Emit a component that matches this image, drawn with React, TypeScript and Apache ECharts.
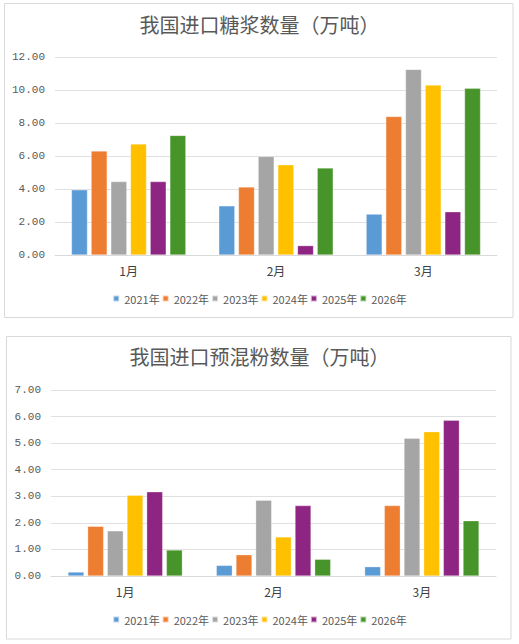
import React, { useEffect, useRef } from "react";
import * as echarts from "echarts";

const months = ["1月", "2月", "3月"];
const years = ["2021年", "2022年", "2023年", "2024年", "2025年", "2026年"];
const colors = ["#5B9BD5", "#ED7D31", "#A5A5A5", "#FFC000", "#8E2582", "#47952A"];

// 我国进口糖浆数量（万吨） — one array per year, values for 1月/2月/3月
const syrup2021 = [3.95, 2.98, 2.48];
const syrup2022 = [6.3, 4.12, 8.4];
const syrup2023 = [4.45, 5.97, 11.25];
const syrup2024 = [6.73, 5.47, 10.3];
const syrup2025 = [4.45, 0.57, 2.62];
const syrup2026 = [7.25, 5.28, 10.1];

// 我国进口预混粉数量（万吨）
const premix2021 = [0.15, 0.4, 0.35];
const premix2022 = [1.87, 0.8, 2.65];
const premix2023 = [1.7, 2.85, 5.18];
const premix2024 = [3.04, 1.47, 5.43];
const premix2025 = [3.17, 2.65, 5.86];
const premix2026 = [0.98, 0.63, 2.08];

const syrupSeries = [syrup2021, syrup2022, syrup2023, syrup2024, syrup2025, syrup2026];
const premixSeries = [premix2021, premix2022, premix2023, premix2024, premix2025, premix2026];

const title1 = "我国进口糖浆数量（万吨）";
const title2 = "我国进口预混粉数量（万吨）";

const sans = "'Noto Sans CJK SC', 'Noto Sans', sans-serif";
const serif = "'Liberation Serif', 'DejaVu Serif', 'Noto Sans CJK SC', serif";
const mono = "'Liberation Mono', 'DejaVu Sans Mono', monospace";

export default function App() {
  const ref = useRef<HTMLDivElement>(null);
  useEffect(() => {
    if (!ref.current) return;
    const chart = echarts.init(ref.current, undefined, { renderer: "svg" });
    const axisLabelY = {
      color: "#595959",
      fontSize: 11,
      fontFamily: mono,
      margin: 10,
      formatter: (v: number) => v.toFixed(2),
    };
    const makeX = (gridIndex: number) => ({
      type: "category" as const,
      gridIndex,
      data: months,
      axisLine: { lineStyle: { color: "#D9D9D9", width: 1 } },
      axisTick: { show: false },
      axisLabel: { color: "#404040", fontSize: 12, fontFamily: sans, margin: 9 },
    });
    const makeY = (gridIndex: number, max: number, interval: number) => ({
      type: "value" as const,
      gridIndex,
      min: 0,
      max,
      interval,
      axisLine: { show: false },
      axisTick: { show: false },
      axisLabel: axisLabelY,
      splitLine: { lineStyle: { color: "#E0E0E0", width: 1 } },
    });
    const mkSeries = (arrs: number[][], idx: number) =>
      arrs.map((d, i) => ({
        type: "bar" as const,
        name: years[i],
        xAxisIndex: idx,
        yAxisIndex: idx,
        data: d,
        barWidth: 16,
        barGap: "23%",
        itemStyle: { color: colors[i], borderColor: "rgba(255,255,255,0.6)", borderWidth: 0.5 },
      }));
    const legendCommon = {
      data: years,
      itemWidth: 6,
      itemHeight: 6,
      itemGap: 2,
      padding: 0,
      icon: "rect",
      textStyle: { color: "#595959", fontSize: 11, fontFamily: sans },
      selectedMode: false,
    };
    chart.setOption({
      animation: false,
      color: colors,
      title: [
        {
          text: title1,
          left: "center",
          top: 16,
          padding: 0,
          textStyle: { color: "#595959", fontSize: 20, fontWeight: "normal", fontFamily: serif, lineHeight: 20 },
        },
        {
          text: title2,
          left: "center",
          top: 348,
          padding: 0,
          textStyle: { color: "#595959", fontSize: 20, fontWeight: "normal", fontFamily: serif, lineHeight: 20 },
        },
      ],
      legend: [
        { ...legendCommon, left: "center", top: 293 },
        { ...legendCommon, left: "center", top: 614 },
      ],
      grid: [
        { left: 55, right: 22, top: 57, height: 198 },
        { left: 51, right: 23, top: 390, height: 186 },
      ],
      xAxis: [makeX(0), makeX(1)],
      yAxis: [makeY(0, 12, 2), makeY(1, 7, 1)],
      series: [...mkSeries(syrupSeries, 0), ...mkSeries(premixSeries, 1)],
      graphic: [
        {
          type: "rect",
          silent: true,
          z: -10,
          shape: { x: 4.5, y: 3.5, width: 508.5, height: 314 },
          style: { fill: "#fff", stroke: "#D9D9D9", lineWidth: 1 },
        },
        {
          type: "rect",
          silent: true,
          z: -10,
          shape: { x: 6.5, y: 336.5, width: 504.5, height: 302.5 },
          style: { fill: "#fff", stroke: "#D9D9D9", lineWidth: 1 },
        },
      ],
    });
    return () => chart.dispose();
  }, []);
  return (
    <div
      ref={ref}
      style={{ position: "absolute", left: 0, top: 0, width: 519, height: 644, background: "#fff" }}
    />
  );
}
